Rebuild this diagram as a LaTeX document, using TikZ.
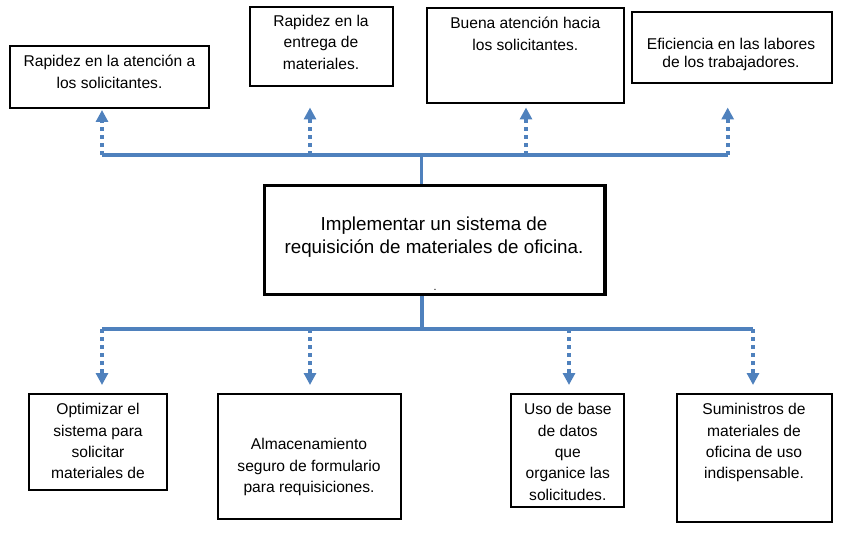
\documentclass[tikz,border=0pt]{standalone}
\usepackage{fontspec}
\setmainfont{Liberation Sans}
\usetikzlibrary{arrows.meta}
\definecolor{busblue}{RGB}{79,129,189}
\tikzset{
  box/.style={draw=black, line width=1.5pt, inner sep=0pt},
  mainbox/.style={draw=black, line width=2.6pt, inner sep=0pt},
  boxtext/.style={anchor=north, inner sep=0pt, align=center, font=\fontsize{11.7}{16}\selectfont},
  bus/.style={draw=busblue, line width=2.6pt},
  dotarrow/.style={draw=busblue, line width=3pt, dash pattern=on 3pt off 3pt,
    -{Triangle[length=9pt, width=9pt]}, busblue}
}
\begin{document}
\begin{tikzpicture}[x=0.75pt,y=0.75pt,yscale=-1,xscale=1]
\useasboundingbox (0,0) rectangle (843,535);

%Shape: Rectangles
\node [mainbox, minimum width=255.4pt, minimum height=81.9pt] (centre) at (434.75,240.1) {};
\node [box, minimum width=149.25pt, minimum height=46.5pt] (t1) at (109.5,77) {};
\node [box, minimum width=107.25pt, minimum height=59.25pt] (t2) at (321,46.5) {};
\node [box, minimum width=148.1pt, minimum height=71.6pt] (t3) at (525.25,55.25) {};
\node [box, minimum width=150pt, minimum height=52.9pt] (t4) at (732,47.75) {};
\node [box, minimum width=103.5pt, minimum height=72pt] (b1) at (98,442) {};
\node [box, minimum width=136.9pt, minimum height=93.75pt] (b2) at (309.25,456.5) {};
\node [box, minimum width=84.4pt, minimum height=84.75pt] (b3) at (567.75,450.5) {};
\node [box, minimum width=116.6pt, minimum height=96pt] (b4) at (754.25,458) {};

%Coordinates on the lines
\coordinate (tj) at (421.5,155);
\coordinate (tj1) at (102,155);
\coordinate (tj2) at (310,155);
\coordinate (tj3) at (526,155);
\coordinate (tj4) at (727.7,155);
\coordinate (tt1) at (102,110);
\coordinate (tt2) at (310,107.5);
\coordinate (tt3) at (526,107.5);
\coordinate (tt4) at (727.7,107.5);
\coordinate (bj) at (422,329);
\coordinate (bj1) at (102,329);
\coordinate (bj2) at (310,329);
\coordinate (bj3) at (569,329);
\coordinate (bj4) at (753,329);
\coordinate (bb1) at (102,385);
\coordinate (bb2) at (310,385);
\coordinate (bb3) at (569,385);
\coordinate (bb4) at (753,385);

%Straight Lines
\draw [bus] (tj |- centre.north) -- (tj);
\draw [bus] (tj1) -- (tj4);
\draw [bus] (bj |- centre.south) -- (bj);
\draw [bus] (bj1) -- (bj4);

%Dotted Arrows
\draw [dotarrow] (tj1) -- (tt1);
\draw [dotarrow] (tj2) -- (tt2);
\draw [dotarrow] (tj3) -- (tt3);
\draw [dotarrow] (tj4) -- (tt4);
\draw [dotarrow] (bj1) -- (bb1);
\draw [dotarrow] (bj2) -- (bb2);
\draw [dotarrow] (bj3) -- (bb3);
\draw [dotarrow] (bj4) -- (bb4);

% Text Node
\node [boxtext, font=\fontsize{14.1}{17.25}\selectfont] (centretext) at (434,216.7) {Implementar un sistema de\\requisición de materiales de oficina.};
\node [inner sep=0pt, anchor=base, font=\fontsize{8}{8}\selectfont] (dot) at (435,290) {.};
% Text Node
\node [boxtext] (t1text) at (109.5,55) {Rapidez en la atención a\\los solicitantes.};
\node [boxtext] (t2text) at (321,15) {Rapidez en la\\entrega de\\materiales.};
\node [boxtext] (t3text) at (525.3,17) {Buena atención hacia\\los solicitantes.};
\node [boxtext, font=\fontsize{11.7}{13.1}\selectfont] (t4text) at (731,38.3) {Eficiencia en las labores\\de los trabajadores.};
% Text Node
\node [boxtext] (b1text) at (98,403.3) {Optimizar el\\sistema para\\solicitar\\materiales de};
\node [boxtext] (b2text) at (309,438.3) {Almacenamiento\\seguro de formulario\\para requisiciones.};
\node [boxtext] (b3text) at (567.8,403.3) {Uso de base\\de datos\\que\\organice las\\solicitudes.};
\node [boxtext] (b4text) at (754,403.3) {Suministros de\\materiales de\\oficina de uso\\indispensable.};

\end{tikzpicture}
\end{document}
